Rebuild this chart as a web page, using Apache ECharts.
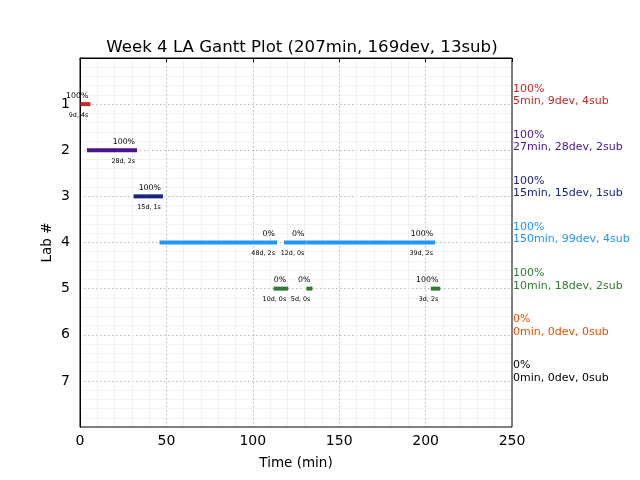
<!DOCTYPE html>
<html>
<head>
<meta charset="utf-8">
<script src="https://cdn.jsdelivr.net/npm/echarts@6/dist/echarts.min.js"></script>
<style>html,body{margin:0;padding:0;background:#fff;}#c{width:640px;height:480px;}</style>
</head>
<body>
<div id="c"></div>
<script>
// ---- data ----
var title = 'Week 4 LA Gantt Plot (207min, 169dev, 13sub)';
var labs = [1, 2, 3, 4, 5, 6, 7];
var labColors = ['#c62828', '#4a148c', '#1a237e', '#2196f3', '#2e7d32', '#e65100', '#000000'];
var labPct = ['100%', '100%', '100%', '100%', '100%', '0%', '0%'];
var labSummary = ['5min, 9dev, 4sub', '27min, 28dev, 2sub', '15min, 15dev, 1sub', '150min, 99dev, 4sub', '10min, 18dev, 2sub', '0min, 0dev, 0sub', '0min, 0dev, 0sub'];
// segments
var segLab   = [1, 2, 3, 4, 4, 4, 5, 5, 5];
var segStart = [0, 4, 31, 46, 118, 131, 112, 131, 203];
var segEnd   = [6, 33, 48, 114, 131, 205.5, 120.5, 134.5, 208.5];
var segPct   = ['100%', '100%', '100%', '0%', '0%', '100%', '0%', '0%', '100%'];
var segSub   = ['9d, 4s', '28d, 2s', '15d, 1s', '48d, 2s', '12d, 0s', '39d, 2s', '10d, 0s', '5d, 0s', '3d, 2s'];
var xTicks = [0, 50, 100, 150, 200, 250];

var FONT = 'DejaVu Sans';
var segData = segLab.map(function (l, i) { return [segStart[i], segEnd[i], l, i]; });
var labData = labs.map(function (l, i) { return [250, l, i]; });

var chart = echarts.init(document.getElementById('c'), null, {renderer: 'canvas'});
chart.setOption({
  animation: false,
  backgroundColor: '#fff',
  title: {
    text: title, left: 297, top: 34, textAlign: 'center',
    textStyle: {fontFamily: FONT, fontSize: 16.6, fontWeight: 'normal', color: '#000'}
  },
  grid: {left: 80, right: 128, top: 58, bottom: 53, show: true, borderColor: '#000', borderWidth: 1, backgroundColor: 'transparent', z: 5},
  xAxis: {
    type: 'value', min: 0, max: 250, interval: 50,
    name: 'Time (min)', nameLocation: 'middle', nameGap: 29,
    nameTextStyle: {fontFamily: FONT, fontSize: 13.5, color: '#000'},
    axisLine: {show: true, lineStyle: {color: '#000', width: 1}},
    axisTick: {show: true, length: 4, inside: false, lineStyle: {color: '#000'}},
    axisLabel: {fontFamily: FONT, fontSize: 14, color: '#000', margin: 7,
      formatter: function (v) { return xTicks.indexOf(v) >= 0 ? String(v) : ''; }},
    splitLine: {show: true, showMinLine: false, showMaxLine: false, lineStyle: {color: '#b8b8b8', type: [1.5, 2.5], width: 1}},
    minorTick: {show: false, splitNumber: 5},
    minorSplitLine: {show: true, lineStyle: {color: '#f2f2f2', width: 1}}
  },
  yAxis: {
    type: 'value', min: 0, max: 8, interval: 1, inverse: true,
    name: 'Lab #', nameLocation: 'middle', nameGap: 26, nameRotate: 90, nameMoveOverlap: false,
    nameTextStyle: {fontFamily: FONT, fontSize: 13.5, color: '#000'},
    axisLine: {show: true, lineStyle: {color: '#000', width: 1}},
    axisTick: {show: false},
    axisLabel: {fontFamily: FONT, fontSize: 14, color: '#000', margin: 10,
      formatter: function (v) { return labs.indexOf(v) >= 0 ? String(v) : ''; }},
    splitLine: {show: true, showMinLine: false, showMaxLine: false, lineStyle: {color: '#b8b8b8', type: [1.5, 2.5], width: 1}},
    minorTick: {show: false, splitNumber: 5},
    minorSplitLine: {show: true, lineStyle: {color: '#f2f2f2', width: 1}}
  },
  series: [
    {
      type: 'custom',
      clip: false,
      data: segData,
      renderItem: function (params, api) {
        var s = api.coord([api.value(0), api.value(2)]);
        var e = api.coord([api.value(1), api.value(2)]);
        var i = api.value(3);
        var lab = api.value(2);
        var col = labColors[lab - 1];
        return {
          type: 'group',
          children: [
            {type: 'rect', shape: {x: s[0], y: s[1] - 2, width: e[0] - s[0], height: 4}, style: {fill: col}},
            {type: 'text', x: e[0] - 2, y: s[1] - 4.5,
              style: {text: segPct[i], fontFamily: FONT, fontSize: 7.8, fill: '#000', align: 'right', verticalAlign: 'bottom'}},
            {type: 'text', x: e[0] - 2, y: s[1] + 8,
              style: {text: segSub[i], fontFamily: FONT, fontSize: 6.4, fill: '#000', align: 'right', verticalAlign: 'top'}}
          ]
        };
      }
    },
    {
      type: 'custom',
      clip: false,
      data: labData,
      renderItem: function (params, api) {
        var i = api.value(2);
        var p = api.coord([api.value(0), api.value(1) - 0.2]);
        return {
          type: 'text', x: p[0] + 1, y: p[1],
          style: {text: labPct[i] + '\n' + labSummary[i], fontFamily: FONT, fontSize: 11, lineHeight: 12.5,
            fill: labColors[i], align: 'left', verticalAlign: 'middle'}
        };
      }
    }
  ]
});
</script>
</body>
</html>
